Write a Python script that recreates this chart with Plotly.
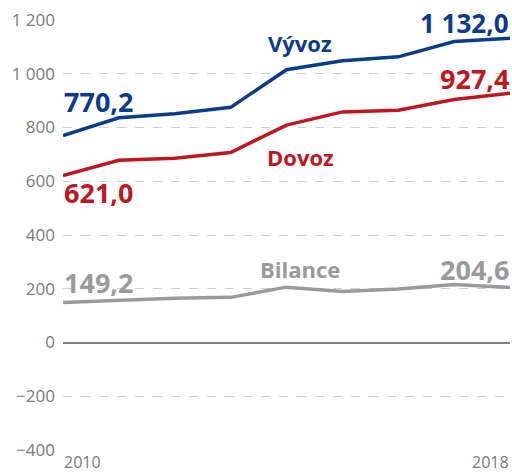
import plotly.graph_objects as go

years = [2010, 2011, 2012, 2013, 2014, 2015, 2016, 2017, 2018]
vyvoz = [770.2, 836, 851, 875, 1015, 1048, 1063, 1120, 1132.0]
dovoz = [621.0, 678, 686, 707, 809, 858, 864, 904, 927.4]
bilance = [149.2, 158, 165, 168, 206, 190, 199, 216, 204.6]

y_ticks = [-400, -200, 0, 200, 400, 600, 800, 1000, 1200]
y_ticktext = ["\u2212400", "\u2212200", "0", "200", "400", "600", "800", "1 000", "1 200"]

BLUE = "#0b3b8c"
RED = "#c0161f"
GRAY = "#9a9a9c"
TICK = "#7a7a7a"
FONT = "Open Sans"

fig = go.Figure()
for ys, c in [(bilance, GRAY), (dovoz, RED), (vyvoz, BLUE)]:
    fig.add_trace(go.Scatter(x=years, y=ys, mode="lines",
                             line=dict(color=c, width=3.5), hoverinfo="skip"))

def ann(x, y, text, color, size, xanchor="center", bold=True):
    fig.add_annotation(x=x, y=y, text=f"<b>{text}</b>" if bold else text,
                       showarrow=False, xanchor=xanchor, yanchor="middle",
                       borderpad=0,
                       font=dict(family=FONT, size=size, color=color, weight=800))

ann(2010, 895, "770,2", BLUE, 27, "left")
ann(2014.25, 1113, "Vývoz", BLUE, 22)
ann(2018, 1190, "1 132,0", BLUE, 26, "right")
ann(2018, 983, "927,4", RED, 27, "right")
ann(2014.25, 692, "Dovoz", RED, 22)
ann(2010, 557, "621,0", RED, 27, "left")
ann(2010, 222, "149,2", GRAY, 27, "left")
ann(2014.25, 272, "Bilance", GRAY, 22)
ann(2018, 272, "204,6", GRAY, 27, "right")

# x-axis end labels
for xv, anchor in [(years[0], "left"), (years[-1], "right")]:
    fig.add_annotation(x=xv, y=0, yref="paper", text=str(xv), showarrow=False,
                       xanchor=anchor, yanchor="middle", yshift=-12, borderpad=0,
                       font=dict(family=FONT, size=16, color=TICK))

fig.update_layout(
    width=512, height=473,
    margin=dict(l=63, r=2, t=20, b=23),
    paper_bgcolor="white", plot_bgcolor="white",
    showlegend=False,
    xaxis=dict(range=[2010, 2018], showgrid=False, showticklabels=False,
               zeroline=False, showline=False, ticks=""),
    yaxis=dict(range=[-400, 1200], tickvals=y_ticks, ticktext=y_ticktext,
               showgrid=True, gridcolor="#cfcfcf", griddash="dash", gridwidth=1,
               zeroline=True, zerolinecolor="#808080", zerolinewidth=1.5,
               showline=False, ticks="", ticklabelstandoff=7,
               tickfont=dict(family=FONT, size=17, color=TICK)),
)

fig.write_html("out.html")
